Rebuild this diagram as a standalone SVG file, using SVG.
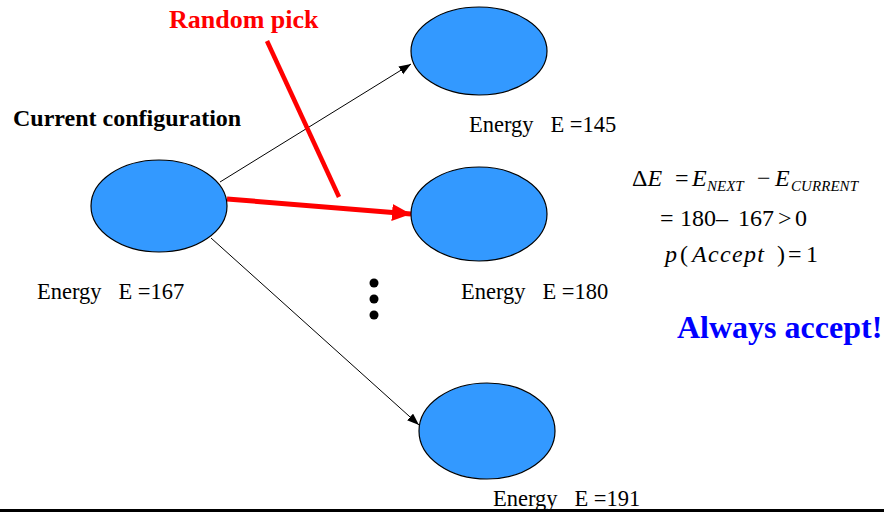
<svg xmlns="http://www.w3.org/2000/svg" width="884" height="512" viewBox="0 0 884 512">
<style>
.node{fill:#3399FF;stroke:#000;stroke-width:1.2}
text{font-family:"Liberation Serif","Times New Roman",Times,"DejaVu Serif",serif}
.lbl{font-size:22.5px;fill:#000;white-space:pre}
.eq{font-size:24px;fill:#000}
.it{font-style:italic}
.sub{font-style:italic;font-size:15px}
.b{font-weight:bold}
.thin{stroke:#000;stroke-width:1;fill:none}
</style>
<defs>
<marker id="ah" markerUnits="userSpaceOnUse" markerWidth="12" markerHeight="10" refX="12" refY="4.5" orient="auto">
<path d="M0,0 L12,4.5 L0,9 Z" fill="#000"/>
</marker>
<marker id="rh" markerUnits="userSpaceOnUse" markerWidth="20" markerHeight="18" refX="19" refY="8.5" orient="auto">
<path d="M0,0 L19,8.5 L0,17 Z" fill="#FF0000"/>
</marker>
</defs>
<rect width="884" height="512" fill="#fff"/>
<g id="connectors">
<line class="thin" x1="220" y1="182" x2="411" y2="64" marker-end="url(#ah)"/>
<line class="thin" x1="211" y1="238" x2="419" y2="425" marker-end="url(#ah)"/>
<line x1="227" y1="199" x2="411" y2="214" stroke="#FF0000" stroke-width="5" marker-end="url(#rh)"/>
<line x1="267" y1="41" x2="339" y2="197" stroke="#FF0000" stroke-width="4.5"/>
</g>
<g id="current">
<ellipse class="node" cx="159" cy="206" rx="68" ry="46"/>
<text class="b" x="13" y="126" font-size="24px">Current configuration</text>
<text class="lbl" x="37" y="299">Energy   E =167</text>
</g>
<g id="next145">
<ellipse class="node" cx="479" cy="51" rx="68" ry="44"/>
<text class="lbl" x="469" y="132">Energy   E =145</text>
</g>
<g id="next180">
<ellipse class="node" cx="479" cy="214" rx="68" ry="47"/>
<text class="lbl" x="461" y="299">Energy   E =180</text>
</g>
<g id="next191">
<ellipse class="node" cx="487" cy="431" rx="68" ry="48"/>
<text class="lbl" x="493" y="506">Energy   E =191</text>
</g>
<g id="dots" fill="#000">
<circle cx="374" cy="283" r="4.5"/>
<circle cx="374" cy="299" r="4.5"/>
<circle cx="374" cy="315" r="4.5"/>
</g>
<g id="random-pick">
<text class="b" x="169" y="28" font-size="26px" fill="#FF0000">Random pick</text>
</g>
<g id="equation">
<text class="eq" y="186"><tspan x="632">Δ</tspan><tspan class="it">E</tspan><tspan x="675">=</tspan><tspan x="692" class="it">E</tspan><tspan x="707" y="191" class="sub">NEXT</tspan><tspan x="757" y="186">−</tspan><tspan x="775" class="it">E</tspan><tspan x="791" y="191" class="sub" textLength="67">CURRENT</tspan></text>
<text class="eq" y="226" font-size="23px"><tspan x="660">=</tspan><tspan x="680">180–</tspan><tspan x="738">167</tspan><tspan x="778">&gt;</tspan><tspan x="795">0</tspan></text>
<text class="eq" y="262"><tspan x="665" class="it">p</tspan><tspan x="680">(</tspan><tspan x="692" class="it" textLength="72">Accept</tspan><tspan x="777">)</tspan><tspan x="788">=</tspan><tspan x="806">1</tspan></text>
</g>
<g id="always-accept">
<text class="b" x="677" y="338" font-size="32px" fill="#0000FF">Always accept!</text>
</g>
<rect x="0" y="509" width="884" height="3" fill="#000"/>
</svg>
